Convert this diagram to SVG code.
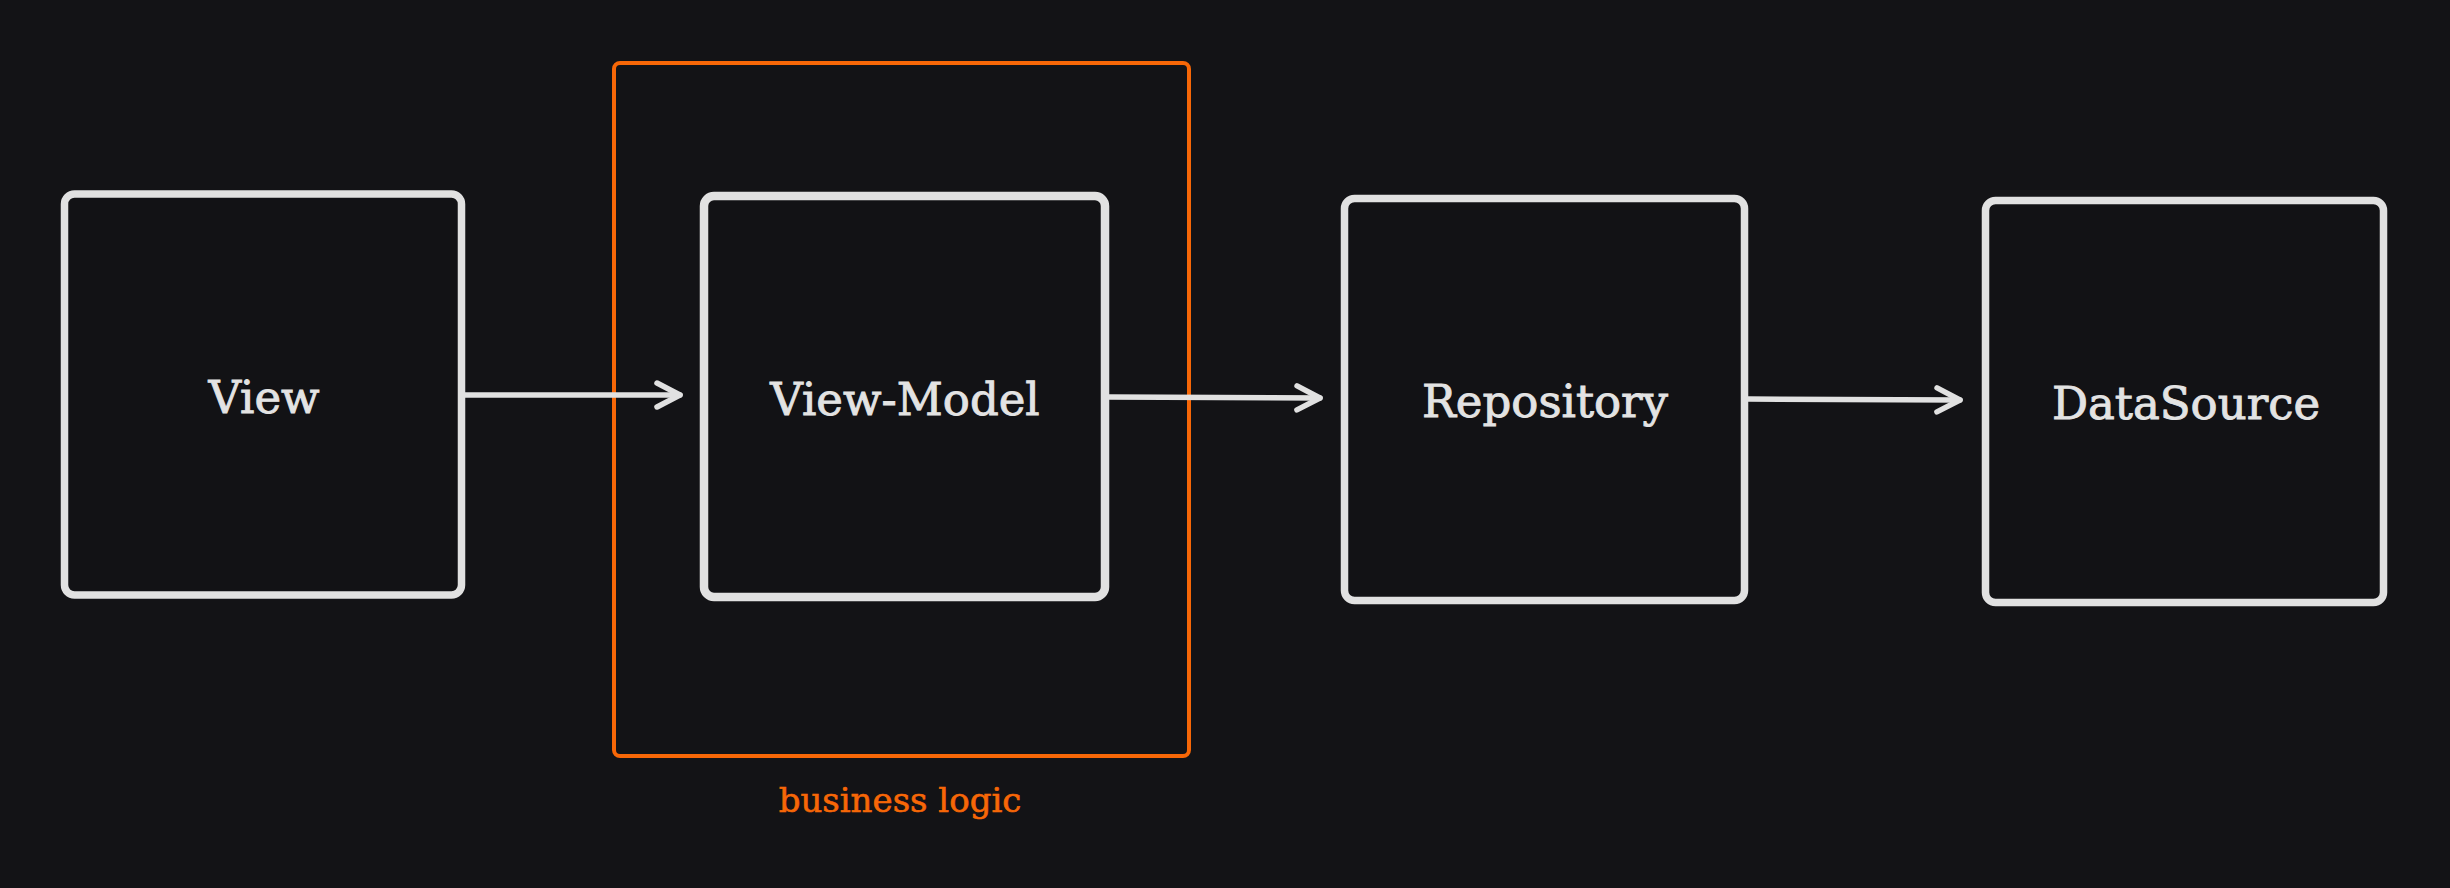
<svg xmlns="http://www.w3.org/2000/svg" width="2450" height="888" viewBox="0 0 2450 888">
  <style>
    .box { fill: #121215; stroke: #e1e1e1; stroke-width: 7.5; }
    .label { font-family: "DejaVu Serif", "Liberation Serif", serif; font-size: 45px; fill: #e3e3e3; stroke: #e3e3e3; stroke-width: 0.9; text-anchor: middle; }
    .edge { fill: none; stroke: #e1e1e1; stroke-width: 5.5; stroke-linecap: round; }
    .group { fill: none; stroke: #f76707; stroke-width: 4; }
    .glabel { font-family: "DejaVu Serif", "Liberation Serif", serif; font-size: 34px; fill: #f76707; stroke: #f76707; stroke-width: 0.6; text-anchor: middle; }
  </style>
  <defs>
    <marker id="arrow" markerUnits="userSpaceOnUse" viewBox="-30 -16 34 32" refX="0" refY="0" markerWidth="34" markerHeight="32" orient="auto">
      <path d="M -23 -12 L 0 0 L -23 12" fill="none" stroke="#e1e1e1" stroke-width="5.5" stroke-linecap="round" stroke-linejoin="round"/>
    </marker>
  </defs>
  <rect x="0" y="0" width="2450" height="888" fill="#131316"/>

  <g id="business-logic">
    <rect class="group" x="614" y="63" width="575" height="693" rx="6"/>
    <text class="glabel" x="900" y="812">business logic</text>
  </g>

  <g id="connectors">
    <line class="edge" x1="465" y1="395" x2="680" y2="395" marker-end="url(#arrow)"/>
    <line class="edge" x1="1109" y1="397" x2="1320" y2="398" marker-end="url(#arrow)"/>
    <line class="edge" x1="1748" y1="399" x2="1960" y2="400" marker-end="url(#arrow)"/>
  </g>

  <g id="view">
    <rect class="box" x="64.5" y="194" width="397" height="401" rx="10"/>
    <text class="label" x="264" y="413">View</text>
  </g>

  <g id="view-model">
    <rect class="box" x="704" y="196" width="401" height="401" rx="10" style="stroke-width:8.5"/>
    <text class="label" x="905" y="415">View-Model</text>
  </g>

  <g id="repository">
    <rect class="box" x="1344.5" y="198.5" width="400" height="402" rx="10"/>
    <text class="label" x="1545" y="417">Repository</text>
  </g>

  <g id="datasource">
    <rect class="box" x="1985.5" y="200.5" width="398" height="402" rx="10"/>
    <text class="label" x="2186" y="419">DataSource</text>
  </g>
</svg>
